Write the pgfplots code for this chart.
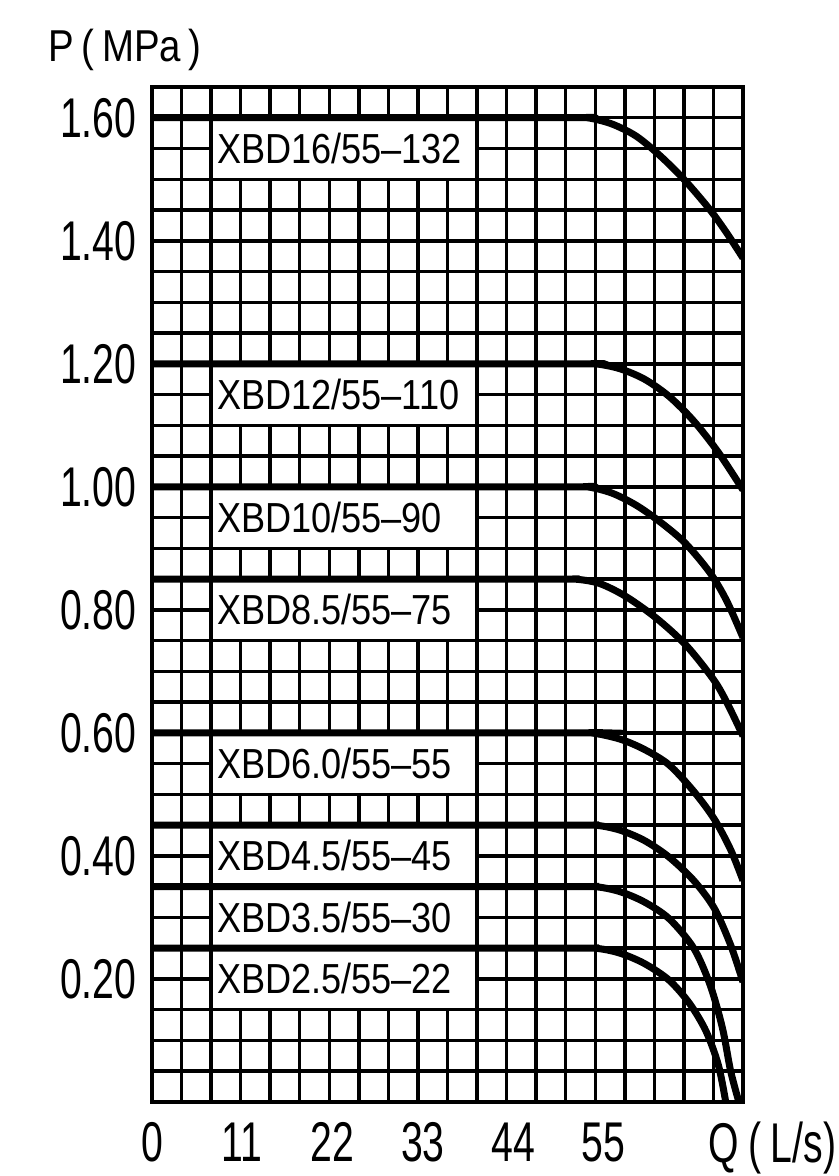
\documentclass[border=0pt]{standalone}
\usepackage{pgfplots}
\pgfplotsset{compat=1.18}
\usepackage{fontspec}
\setmainfont{Liberation Sans}[FakeStretch=0.86]
\newfontfamily\tickfont{Liberation Sans}[FakeStretch=0.7]

% pump curves, Q (L/s) against P (MPa)
\pgfplotstableread{
q p
0 1.60
50 1.60
53 1.60
56 1.59
59 1.57
62 1.537
65 1.497
68 1.45
70 1.413
72 1.372
}\xbdsixteen
\pgfplotstableread{
q p
0 1.20
51 1.20
54 1.20
57 1.192
60 1.175
63 1.147
66 1.107
69 1.056
72 0.995
}\xbdtwelve
\pgfplotstableread{
q p
0 1.00
50 1.00
53 1.00
56 0.99
59 0.97
62 0.942
65 0.908
68 0.86
70 0.815
72 0.755
}\xbdten
\pgfplotstableread{
q p
0 0.85
48 0.85
51.5 0.85
54.5 0.843
57.7 0.822
61.4 0.787
65.1 0.742
68.5 0.685
70.2 0.645
72 0.595
}\xbdeight
\pgfplotstableread{
q p
0 0.60
50 0.60
53.5 0.60
57 0.59
60 0.573
63 0.548
66 0.505
68.5 0.46
70.5 0.41
72 0.36
}\xbdsix
\pgfplotstableread{
q p
0 0.45
50 0.45
54 0.45
57 0.442
60 0.425
63 0.398
66 0.36
68.5 0.315
70.5 0.255
72 0.195
}\xbdfour
\pgfplotstableread{
q p
0 0.35
50 0.35
54 0.35
57 0.342
60 0.325
63 0.298
66 0.25
68 0.19
69.5 0.12
70.5 0.05
71.5 0.0
}\xbdthree
\pgfplotstableread{
q p
0 0.25
50 0.25
54 0.25
57 0.242
60 0.225
63 0.198
65.5 0.16
67.5 0.115
69 0.06
69.9 0.0
}\xbdtwo

\newcommand{\lbox}[3]{%
  \fill[white] (axis cs:7.2,#1) rectangle (axis cs:39.6,#2);
  \draw[line width=1.05pt] (axis cs:7.2,#1) rectangle (axis cs:39.6,#2);
  \node[anchor=west, inner sep=0pt, xshift=1.6pt, font=\fontsize{12.6}{14}\selectfont]
    at (axis cs:7.2,#1/2+#2/2) {#3};}

\begin{document}
\begin{tikzpicture}
\begin{axis}[
  scale only axis, width=177.3pt, height=304.5pt,
  xmin=0, xmax=72, ymin=0, ymax=1.65,
  xtick={0,11,22,33,44,55},
  ytick={0.2,0.4,0.6,0.8,1.0,1.2,1.4,1.6},
  minor xtick={3.6,7.2,10.8,14.4,18,21.6,25.2,28.8,32.4,36,39.6,43.2,46.8,50.4,54,57.6,61.2,64.8,68.4},
  minor ytick={0.05,0.1,0.15,0.2,0.25,0.3,0.35,0.4,0.45,0.5,0.55,0.6,0.65,0.7,0.75,0.8,0.85,0.9,0.95,1.0,1.05,1.1,1.15,1.2,1.25,1.3,1.35,1.4,1.45,1.5,1.55,1.6},
  grid=minor,
  minor grid style={black, line width=1.05pt},
  major tick length=0pt, minor tick length=0pt,
  axis line style={line width=1.3pt},
  /pgf/number format/assume math mode=true,
  yticklabel={\pgfmathprintnumber[fixed,fixed zerofill,precision=2]{\tick}},
  xticklabel style={font=\tickfont\fontsize{16.8}{18}\selectfont, inner sep=0pt, yshift=-6pt},
  yticklabel style={font=\tickfont\fontsize{16.8}{18}\selectfont, inner sep=0pt, xshift=-4.5pt},
  pump/.style={black, solid, line width=2.1pt, smooth, no markers},
]
\lbox{1.50}{1.60}{XBD16/55--132}
\lbox{1.10}{1.20}{XBD12/55--110}
\lbox{0.90}{1.00}{XBD10/55--90}
\lbox{0.75}{0.85}{XBD8.5/55--75}
\lbox{0.50}{0.60}{XBD6.0/55--55}
\lbox{0.35}{0.45}{XBD4.5/55--45}
\lbox{0.25}{0.35}{XBD3.5/55--30}
\lbox{0.15}{0.25}{XBD2.5/55--22}
\addplot[pump] table[x=q,y=p] {\xbdsixteen};
\addplot[pump] table[x=q,y=p] {\xbdtwelve};
\addplot[pump] table[x=q,y=p] {\xbdten};
\addplot[pump] table[x=q,y=p] {\xbdeight};
\addplot[pump] table[x=q,y=p] {\xbdsix};
\addplot[pump] table[x=q,y=p] {\xbdfour};
\addplot[pump] table[x=q,y=p] {\xbdthree};
\addplot[pump] table[x=q,y=p] {\xbdtwo};
\end{axis}
\node[font=\fontsize{13.4}{15}\selectfont, xshift=-8.1pt, yshift=11.1pt] at (current axis.north west) {P\,(\,MPa\,)};
\node[anchor=base west, font=\tickfont\fontsize{16.8}{18}\selectfont, xshift=-13.8pt, yshift=-18pt] at (current axis.south east) {Q\,(\,L/s)};
\pgfresetboundingbox
\path (current axis.south west) ++(-45.6pt,-22.2pt) rectangle ++(251.4pt,352.8pt);
\end{tikzpicture}
\end{document}
